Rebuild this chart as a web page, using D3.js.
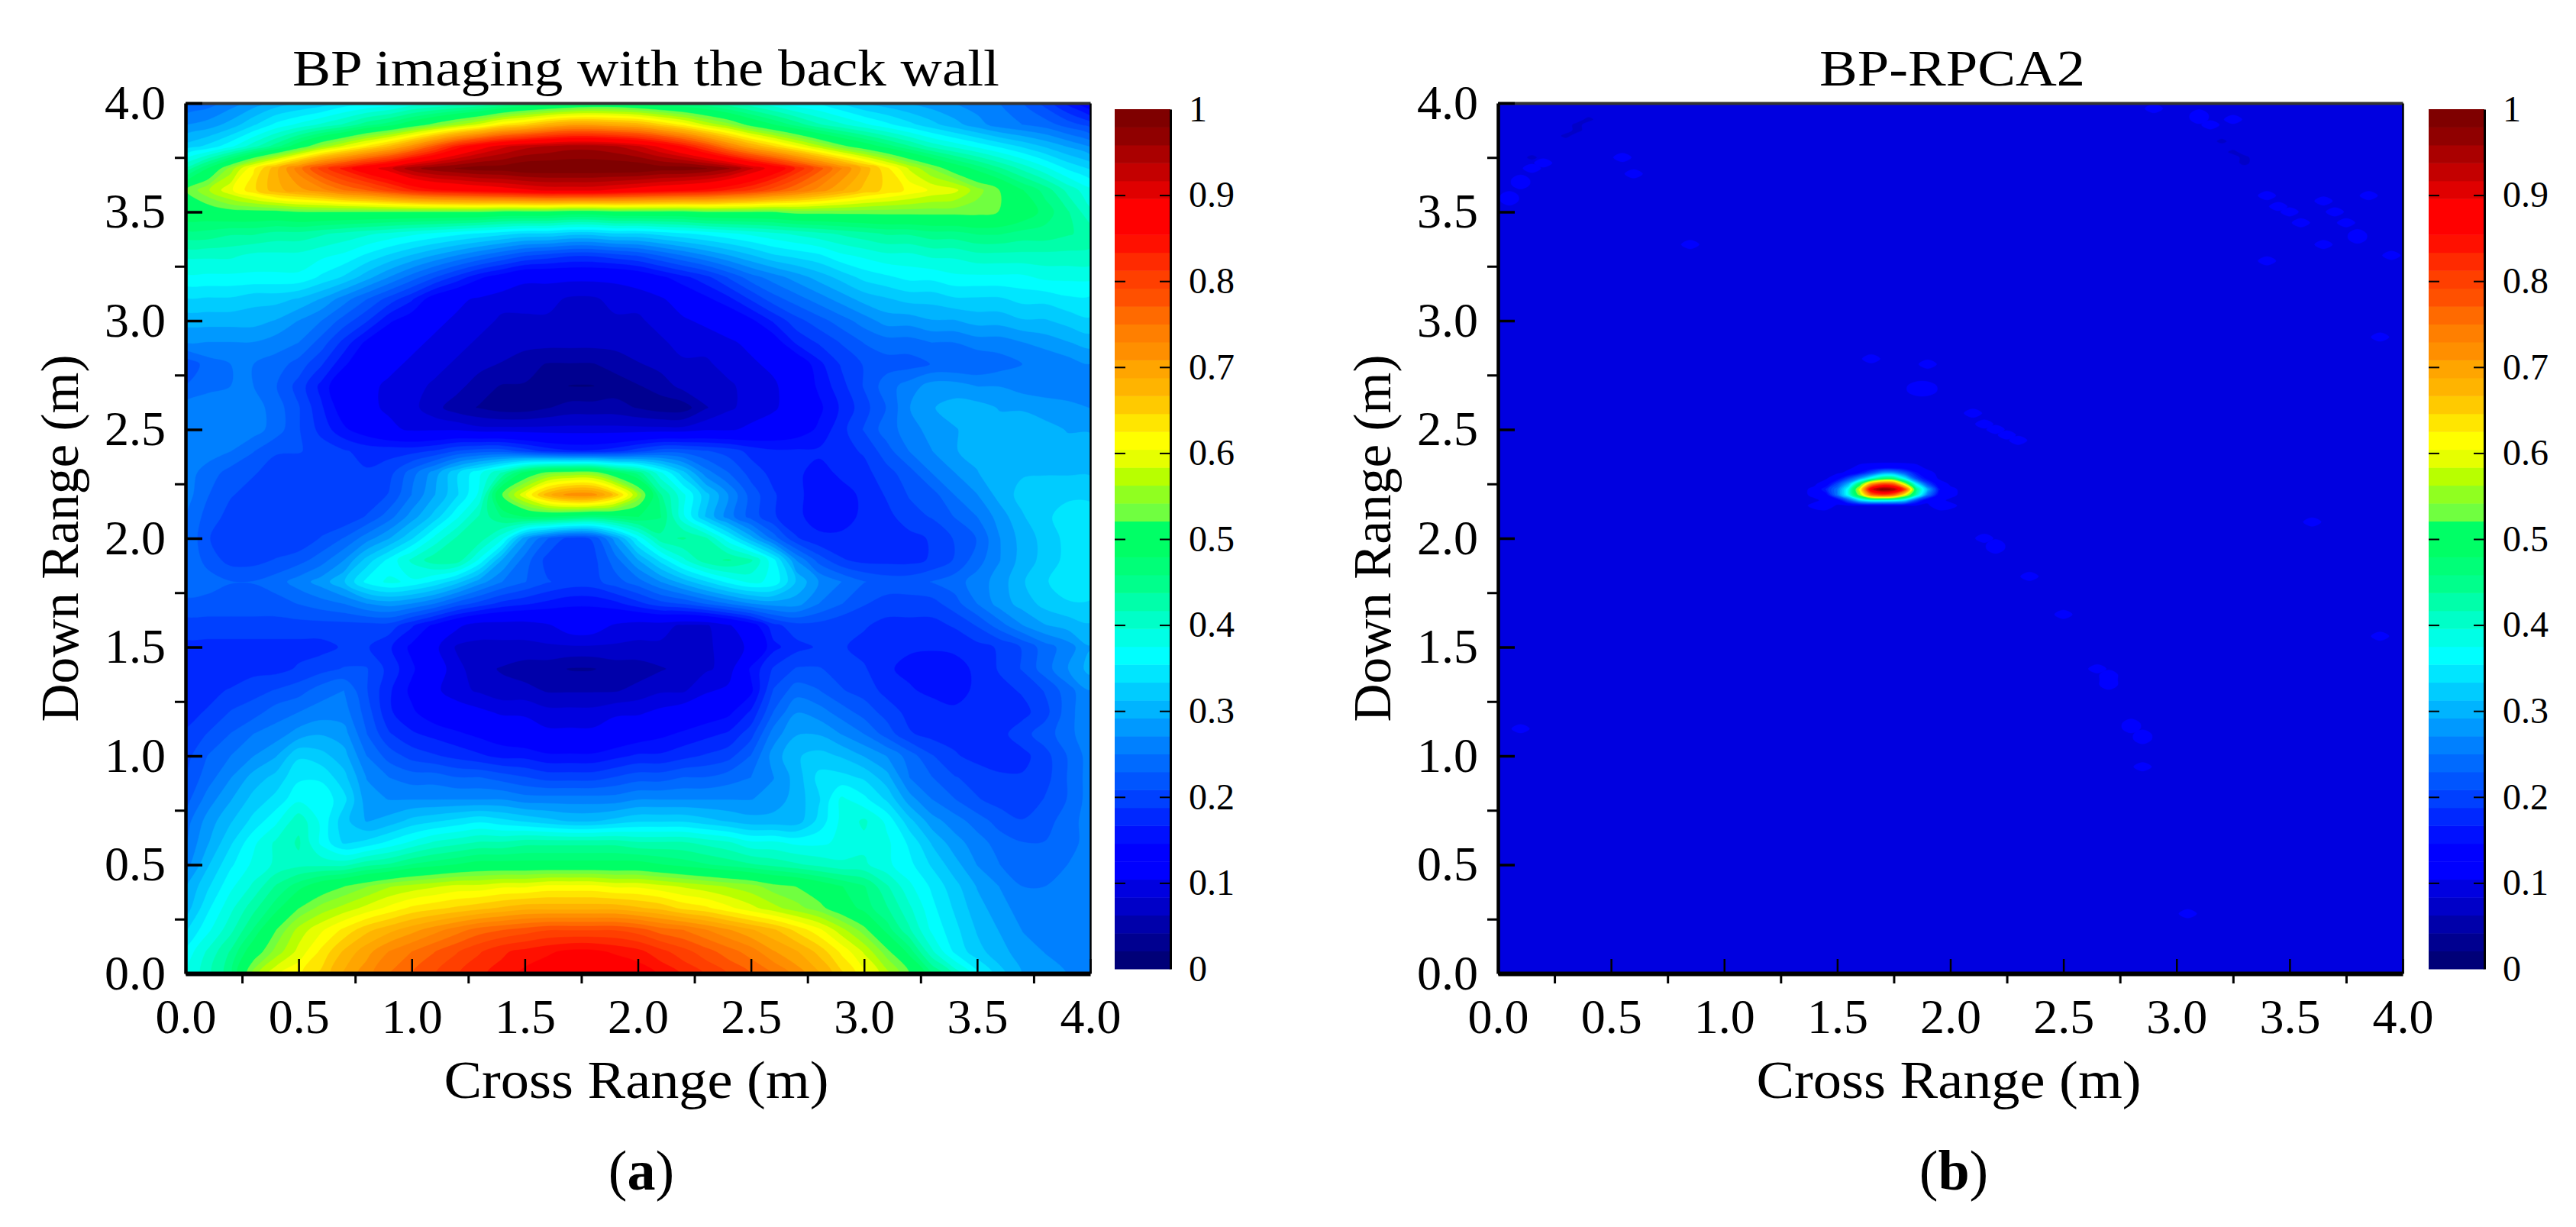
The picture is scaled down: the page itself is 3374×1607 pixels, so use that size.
<!DOCTYPE html>
<html>
<head>
<meta charset="utf-8">
<script src="https://cdn.jsdelivr.net/npm/d3@7"></script>
<style>
  body { margin: 0; background: #fff; }
  text { font-family: "Liberation Serif", serif; fill: #000; }
</style>
</head>
<body>
<svg id="fig" width="3374" height="1607"></svg>
<script>
// ticks
const majorTicks = [0, 0.5, 1, 1.5, 2, 2.5, 3, 3.5, 4];
const minorTicks = [0.25, 0.75, 1.25, 1.75, 2.25, 2.75, 3.25, 3.75];
const barTicks = [0, 0.1, 0.2, 0.3, 0.4, 0.5, 0.6, 0.7, 0.8, 0.9, 1];

// the 48 colour bands of the scale, from value 0 up to value 1
const bandColors = [
  "#000078", "#000090", "#0000aa", "#0000c8", "#0000e0", "#0000ff", "#0000ff", "#0010ff",
  "#0028ff", "#0040ff", "#0055ff", "#006aff", "#0080ff", "#0099ff", "#00b4ff", "#00ccff",
  "#00e6ff", "#00ffff", "#00ffe6", "#00ffc8", "#00ffaa", "#00ff8c", "#00ff78", "#00ff66",
  "#00ff66", "#70ff40", "#90ff20", "#b8ff00", "#e6ff00", "#ffff00", "#ffe600", "#ffca00",
  "#ffb400", "#ffa500", "#ff8f00", "#ff7f00", "#ff6a00", "#ff5000", "#ff3f00", "#ff2a00",
  "#ff1000", "#ff0000", "#ff0000", "#e00000", "#c40000", "#aa0000", "#900000", "#7f0000"
];

// panel (a): intensity in percent, rows from down range 4.0 to 0.0 (step 0.1),
// columns from cross range 0.0 to 4.0 (step 0.1)
const rowsA = [
  [23,24,26,28,30,31,32,34,35,36,38, 39,40,41,43,45,46,47,48,48,47, 46,45,44,42,40,38,36,35,33,31, 30,29,28,27,26,25,23,20,16,12],
  [27,28,30,33,36,38,40,42,45,47,50, 53,56,59,63,65,68,70,70,69,68, 65,62,58,55,51,48,45,42,40,38, 36,34,32,30,28,26,25,24,22,20],
  [32,34,37,41,45,50,55,59,63,67,72, 78,84,88,91,93,94,95,95,94,92, 89,85,80,74,69,65,61,57,53,50, 47,44,41,39,37,35,33,31,29,27],
  [42,48,55,62,68,74,80,84,88,91,95, 97,98,99,99,100,100,100,100,100,100, 99,99,98,96,92,88,83,78,73,68, 63,58,54,50,47,44,41,38,35,33],
  [52,56,60,64,68,70,72,75,77,80,83, 85,86,87,88,89,90,90,90,89,88, 87,86,85,83,81,78,75,72,69,66, 64,62,60,59,55,52,48,45,41,38],
  [50,50,51,51,51,52,52,52,52,52,52, 52,52,52,51,51,51,50,50,51,51, 51,51,52,52,52,52,53,53,53,53, 53,53,53,53,53,52,50,47,44,40],
  [45,45,44,44,43,43,42,41,40,39,38, 37,36,35,34,33,33,32,32,33,33, 34,35,36,37,38,39,40,41,42,43, 44,44,45,45,46,46,45,45,44,43],
  [40,40,40,39,39,39,38,37,35,33,31, 29,27,25,23,21,20,19,19,20,21, 23,25,27,29,31,33,34,35,37,38, 39,39,40,40,41,41,41,41,41,41],
  [37,37,37,37,37,37,35,33,30,27,24, 21,18,15,13,11,11,11,11,11,12, 14,16,18,21,24,26,28,30,32,34, 35,36,36,37,37,37,37,38,38,38],
  [33,33,33,32,32,31,29,26,23,20,17, 13,11,10,9,9,9,8,8,9,9, 10,12,14,16,19,22,24,26,28,30, 31,32,32,33,33,33,34,34,35,35],
  [30,30,30,30,29,27,25,22,19,15,13, 11,10,9,8,8,8,8,8,8,8, 9,10,11,12,14,17,20,22,24,26, 28,28,29,29,30,30,31,31,32,33],
  [27,27,27,27,26,25,22,18,14,12,11, 10,9,8,8,7,7,7,7,7,8, 8,9,9,10,11,13,17,19,21,23, 24,24,25,25,26,26,27,28,29,30],
  [21,24,25,25,24,22,19,15,12,11,10, 9,8,7,6,5,4,4,4,5,6, 7,8,8,9,10,11,12,16,19,21, 22,22,23,23,23,24,25,25,26,27],
  [23,24,25,25,23,20,16,12,11,10,9, 8,7,5,4,4,3,2,2,3,4, 5,7,8,8,9,10,12,15,18,21, 24,26,28,28,27,27,26,26,25,25],
  [26,27,27,26,24,21,17,13,11,10,9, 7,5,4,3,3,4,5,5,5,4, 3,3,6,8,9,10,12,14,17,20, 23,27,29,30,30,29,29,28,28,27],
  [27,27,27,26,24,21,18,15,13,11,10, 10,10,9,9,9,9,9,9,9,9, 9,9,10,10,11,12,13,15,18,21, 24,26,28,29,30,30,30,30,29,29],
  [27,26,25,23,21,21,20,19,18,18,18, 19,21,22,22,20,18,17,17,18,20, 22,22,21,20,18,17,17,17,18,19, 22,25,27,29,30,31,31,30,30,30],
  [26,24,22,21,20,19,19,19,19,20,24, 28,33,37,42,49,53,54,54,49,45, 38,32,26,23,20,18,17,16,17,18, 20,22,25,27,29,31,31,31,31,31],
  [26,23,21,20,19,19,19,19,19,21,25, 29,33,38,52,60,68,72,72,66,56, 44,38,32,27,22,19,17,16,16,17, 19,21,22,25,27,30,32,33,33,33],
  [25,22,20,19,19,19,19,19,21,24,28, 32,37,42,46,48,48,47,46,47,48, 46,38,31,26,22,19,17,16,16,17, 18,20,21,23,25,28,31,33,34,34],
  [25,21,19,19,19,19,21,23,26,29,33, 38,42,43,38,28,23,20,21,28,36, 43,44,42,36,30,24,19,17,17,17, 17,18,19,21,23,27,30,32,34,35],
  [25,22,20,20,21,22,24,27,32,36,40, 43,43,37,29,24,20,19,20,24,29, 34,39,43,44,42,36,27,22,19,18, 18,18,19,21,24,27,30,32,34,35],
  [25,24,23,23,24,26,28,31,36,38,37, 35,32,28,25,23,21,20,20,22,24, 27,30,33,36,38,37,31,27,25,23, 22,22,23,24,26,28,31,33,35,35],
  [22,22,22,22,22,23,24,25,27,28,27, 25,22,20,18,17,16,15,15,16,18, 20,21,23,25,27,28,28,25,23,21, 20,20,20,22,25,28,30,32,33,33],
  [20,20,20,20,20,20,20,20,20,20,17, 14,11,9,9,9,10,12,12,10,9, 9,8,8,10,13,18,20,20,19,19, 18,18,18,19,21,24,27,29,30,31],
  [18,18,18,18,18,18,18,19,19,17,14, 11,8,8,8,8,8,8,8,8,8, 8,8,8,9,11,16,18,19,19,18, 17,17,17,17,18,19,21,24,26,29],
  [17,17,17,18,18,19,20,21,21,18,15, 12,9,7,6,5,5,4,4,5,5, 6,7,8,9,15,19,21,21,20,19, 17,16,15,16,17,19,21,24,27,30],
  [17,18,19,20,21,22,24,25,21,17,14, 11,9,8,7,7,6,6,6,6,7, 8,8,10,11,14,21,24,23,21,20, 18,17,16,16,17,18,19,21,24,27],
  [18,19,21,22,24,25,26,26,22,17,15, 13,12,11,10,10,9,9,9,10,10, 11,12,13,14,17,23,27,26,24,22, 20,18,18,17,17,17,18,20,24,27],
  [19,21,23,25,26,28,29,28,23,19,17, 16,15,14,13,12,11,11,11,12,13, 14,15,16,17,20,26,29,29,27,25, 22,19,18,18,18,18,20,22,24,27],
  [20,23,25,27,29,33,32,30,25,22,20, 19,18,17,16,16,15,15,15,16,17, 17,18,19,20,23,28,31,32,31,29, 27,24,21,19,18,18,18,20,23,26],
  [21,24,27,30,32,35,35,32,27,25,24, 24,23,23,22,21,20,20,20,21,22, 22,23,23,24,25,27,30,34,34,33, 30,25,23,21,20,19,19,20,23,26],
  [22,26,29,32,34,37,37,34,28,27,27, 27,27,27,27,26,26,26,26,26,27, 27,27,27,27,27,28,30,33,38,36, 33,28,25,23,21,20,19,21,23,26],
  [24,28,31,34,37,41,37,32,29,30,32, 33,34,35,34,33,32,31,31,32,33, 33,33,32,31,30,30,30,34,38,40, 37,32,28,26,24,22,21,22,24,26],
  [25,29,33,37,40,42,37,33,34,36,38, 40,41,42,42,43,43,43,43,43,42, 42,42,41,40,38,38,37,37,38,39, 38,35,31,28,26,24,23,23,24,26],
  [26,31,35,38,40,41,41,41,43,44,46, 47,48,49,49,49,49,49,49,49,49, 48,47,46,45,44,43,42,41,40,40, 38,36,33,30,27,25,24,24,25,26],
  [29,33,37,40,44,47,50,52,54,56,57, 58,59,59,60,60,61,61,61,60,60, 59,58,57,56,55,53,52,50,48,46, 42,38,35,32,29,27,25,25,25,26],
  [30,35,39,43,47,52,55,57,59,61,63, 64,65,66,67,68,68,68,68,68,67, 66,64,63,61,59,57,55,53,50,47, 44,40,36,33,30,28,26,26,26,26],
  [33,37,41,46,52,57,60,63,66,68,70, 72,74,76,77,78,79,79,79,79,78, 76,75,73,71,69,67,64,61,57,53, 47,42,37,34,31,29,27,26,26,26],
  [36,40,44,50,55,59,63,67,70,73,75, 77,79,81,83,84,85,86,86,85,84, 82,80,78,76,74,71,69,66,62,58, 53,47,40,35,32,30,28,27,26,26],
  [37,41,45,55,60,62,65,69,72,75,77, 79,81,83,84,86,87,88,88,88,87, 85,83,81,79,77,75,72,69,65,61, 57,52,46,41,36,32,29,28,27,26]
];

// panel (b): nearly flat floor, a small peak and a few faint spots (all in percent)
const floorB = 10;
const peakXsB = [1.4, 1.45, 1.5, 1.55, 1.6, 1.65, 1.7, 1.75, 1.8, 1.85, 1.9, 1.95, 2, 2.05];
const peakYsB = [2.35, 2.325, 2.3, 2.275, 2.25, 2.225, 2.2, 2.175, 2.15];
const peakRowsB = [
  [10,10,10,10,10,10,10,10,10,10,10,10,10,10],
  [10,10,10,10,11,12,13,13,12,11,10,10,10,10],
  [10,10,10,11,15,21,28,28,22,15,11,10,10,10],
  [10,10,13,20,28,38,46,46,35,20,13,10,10,10],
  [10,12,20,30,48,70,78,76,56,35,20,12,10,10],
  [11,17,25,38,60,90,98,95,80,45,30,15,11,10],
  [11,13,25,38,55,75,80,76,60,42,25,13,11,10],
  [10,11,12,22,33,38,38,37,33,20,11,11,10,10],
  [11,12,10,10,10,10,10,10,10,10,10,12,11,10]
];
// slightly brighter spots [cross, down]
const brightSpotsB = [
  [0.05,3.55],[0.05,3.575],[0.1,3.625],[0.1,3.65],[0.15,3.7],[0.2,3.725],[0.6,3.675],[0.55,3.75],[0.85,3.35],
  [1.85,2.7],[1.9,2.7],[1.85,2.675],[1.9,2.675],[1.65,2.825],[1.9,2.8],
  [2.1,2.575],[2.15,2.525],[2.2,2.5],[2.25,2.475],[2.3,2.45],
  [2.9,3.975],[3.1,3.95],[3.1,3.925],[3.15,3.9],[3.25,3.925],
  [3.4,3.575],[3.45,3.525],[3.5,3.5],[3.55,3.45],
  [3.65,3.55],[3.7,3.5],[3.75,3.45],[3.8,3.4],[3.8,3.375],[3.65,3.35],[3.95,3.3],[3.4,3.275],[3.9,2.925],[3.85,3.575],
  [2.15,2],[2.2,1.975],[2.2,1.95],[2.35,1.825],[2.5,1.65],
  [2.65,1.4],[2.7,1.375],[2.7,1.35],[2.7,1.325],[2.8,1.15],[2.8,1.125],[2.85,1.1],[2.85,1.075],[2.85,0.95],
  [3.9,1.55],[3.05,0.275],[0.1,1.125],[3.6,2.075]
];
// slightly darker spots [cross, down]
const darkSpotsB = [
  [0.3,3.85],[0.35,3.875],[0.35,3.9],[0.4,3.925],[0.15,3.75],[3.2,3.825],[3.25,3.775],[3.3,3.75],[3.3,3.725]
];

const svg = d3.select("#fig");
const thresholds = d3.range(48).map(i => i / 48);

// fill the grid of panel (b) from the lists above
function buildGridB() {
  let nx = 81, ny = 161;
  let vals = new Array(nx * ny).fill(floorB);
  let put = function (cx, cy, v) {
    let i = Math.round(cx / 0.05), j = Math.round((4 - cy) / 0.025);
    vals[j * nx + i] = v;
  };
  brightSpotsB.forEach(p => put(p[0], p[1], 12));
  darkSpotsB.forEach(p => put(p[0], p[1], 7));
  peakRowsB.forEach((row, r) => row.forEach((v, c) => put(peakXsB[c], peakYsB[r], v)));
  return {nx, ny, dx: 0.05, dy: 0.025, values: vals.map(v => v / 100)};
}

function drawPanel(p) {
  let x = d3.scaleLinear().domain([0, 4]).range([p.left, p.left + 1185]);
  let y = d3.scaleLinear().domain([0, 4]).range([1275, 135]);

  let clipId = "clip" + p.name;
  svg.append("clipPath").attr("id", clipId).append("rect")
    .attr("x", x(0)).attr("y", y(4)).attr("width", x(4) - x(0)).attr("height", y(0) - y(4));

  // filled contours, one path per band, smoothed on the way through d3.line
  let contours = d3.contours().size([p.grid.nx, p.grid.ny]).thresholds(thresholds)(p.grid.values);
  let ring = d3.line()
    .x(d => x((d[0] - 0.5) * p.grid.dx))
    .y(d => y(4 - (d[1] - 0.5) * p.grid.dy))
    .curve(d3.curveCatmullRomClosed.alpha(0.5));

  let g = svg.append("g").attr("clip-path", "url(#" + clipId + ")");
  g.append("rect").attr("x", x(0)).attr("y", y(4)).attr("width", x(4) - x(0)).attr("height", y(0) - y(4))
    .attr("fill", bandColors[0]);
  g.selectAll("path").data(contours).join("path")
    .attr("fill", (d, i) => bandColors[i])
    .attr("fill-rule", "evenodd")
    .attr("stroke", (d, i) => bandColors[i])
    .attr("stroke-width", 0.5)
    .attr("d", d => d.coordinates.map(poly => poly.map(r => ring(r.slice(0, -1))).join("")).join(""));

  // frame
  svg.append("g").attr("transform", "translate(0," + y(4) + ")")
    .call(d3.axisTop(x).tickValues([]).tickSizeOuter(0))
    .select(".domain").attr("stroke", "#333").attr("stroke-width", 4);
  svg.append("g").attr("transform", "translate(" + x(4) + ",0)")
    .call(d3.axisRight(y).tickValues([]).tickSizeOuter(0))
    .select(".domain").attr("stroke-width", 2.5);

  // x axis: labelled ticks go inward, minor ones outward
  let xMajor = svg.append("g").attr("transform", "translate(0," + y(0) + ")")
    .call(d3.axisBottom(x).tickValues(majorTicks).tickSize(-19).tickSizeOuter(0).tickPadding(33).tickFormat(d3.format(".1f")));
  xMajor.select(".domain").attr("stroke-width", 6);
  xMajor.selectAll("line").attr("stroke-width", 2.5);
  xMajor.selectAll("text").attr("font-size", 64).attr("font-family", "Liberation Serif");
  svg.append("g").attr("transform", "translate(0," + (y(0) + 2) + ")")
    .call(d3.axisBottom(x).tickValues(minorTicks).tickSize(11).tickSizeOuter(0).tickFormat(""))
    .call(s => s.select(".domain").remove())
    .selectAll("line").attr("stroke-width", 3);

  // y axis
  let yMajor = svg.append("g").attr("transform", "translate(" + x(0) + ",0)")
    .call(d3.axisLeft(y).tickValues(majorTicks).tickSize(-22).tickSizeOuter(0).tickPadding(26).tickFormat(d3.format(".1f")));
  yMajor.select(".domain").attr("stroke-width", 4.5);
  yMajor.selectAll("line").attr("stroke-width", 3.5);
  yMajor.selectAll("text").attr("font-size", 64).attr("font-family", "Liberation Serif");
  svg.append("g").attr("transform", "translate(" + (x(0) - 1) + ",0)")
    .call(d3.axisLeft(y).tickValues(minorTicks).tickSize(13).tickSizeOuter(0).tickFormat(""))
    .call(s => s.select(".domain").remove())
    .selectAll("line").attr("stroke-width", 3);

  // titles
  svg.append("text").attr("x", p.left + p.titleDx).attr("y", 112)
    .attr("text-anchor", "middle").attr("font-size", 67)
    .attr("textLength", p.titleLen).attr("lengthAdjust", "spacingAndGlyphs")
    .text(p.title);
  svg.append("text").attr("x", (x(0) + x(4)) / 2 - 2).attr("y", 1438)
    .attr("text-anchor", "middle").attr("font-size", 70)
    .attr("textLength", 504).attr("lengthAdjust", "spacingAndGlyphs")
    .text("Cross Range (m)");
  svg.append("text")
    .attr("transform", "translate(" + (p.left - 141) + ",705) rotate(-90)")
    .attr("text-anchor", "middle").attr("font-size", 70)
    .attr("textLength", 481).attr("lengthAdjust", "spacingAndGlyphs")
    .text("Down Range (m)");

  // caption, letter in bold
  let cap = svg.append("text").attr("x", p.left + 597).attr("y", 1558)
    .attr("text-anchor", "middle").attr("font-size", 74);
  cap.append("tspan").text("(");
  cap.append("tspan").attr("font-weight", "bold").text(p.name);
  cap.append("tspan").text(")");

  // colour scale
  let cy = d3.scaleLinear().domain([0, 1]).range([1269, 143]);
  let bar = svg.append("g");
  bar.selectAll("rect").data(bandColors).join("rect")
    .attr("x", p.barLeft).attr("width", 73)
    .attr("y", (d, i) => cy((i + 1) / 48))
    .attr("height", (d, i) => cy(i / 48) - cy((i + 1) / 48) + 0.5)
    .attr("fill", d => d);

  let inner = barTicks.slice(1, -1);
  svg.append("g").attr("transform", "translate(" + p.barLeft + ",0)")
    .call(d3.axisRight(cy).tickValues(inner).tickSize(14).tickSizeOuter(0).tickFormat(""))
    .call(s => s.select(".domain").remove())
    .selectAll("line").attr("stroke-width", 2);
  let right = svg.append("g").attr("transform", "translate(" + (p.barLeft + 73) + ",0)")
    .call(d3.axisLeft(cy).tickValues(inner).tickSize(14).tickSizeOuter(0).tickFormat(""));
  right.select(".domain").attr("stroke-width", 3);
  right.selectAll("line").attr("stroke-width", 2);
  let labels = svg.append("g").attr("transform", "translate(" + (p.barLeft + 97) + ",0)")
    .call(d3.axisRight(cy).tickValues(barTicks).tickSize(0).tickPadding(0)
      .tickFormat(d => (d === 0 || d === 1) ? d : d3.format(".1f")(d)));
  labels.select(".domain").remove();
  labels.selectAll("text").attr("font-size", 48).attr("font-family", "Liberation Serif");
}

drawPanel({
  name: "a", left: 243, barLeft: 1460,
  title: "BP imaging with the back wall", titleDx: 603, titleLen: 926,
  grid: {nx: 41, ny: 41, dx: 0.1, dy: 0.1, values: rowsA.flat().map(v => v / 100)}
});
drawPanel({
  name: "b", left: 1962, barLeft: 3181,
  title: "BP-RPCA2", titleDx: 595, titleLen: 348,
  grid: buildGridB()
});
</script>
</body>
</html>
